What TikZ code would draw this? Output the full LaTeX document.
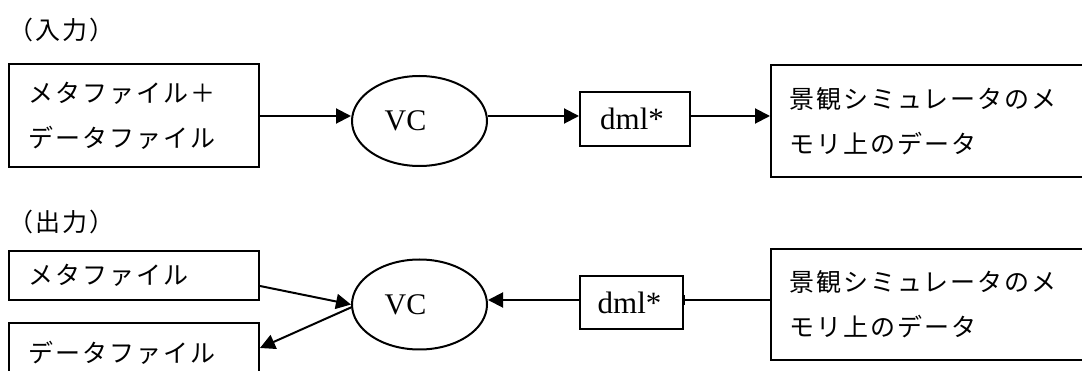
\documentclass[tikz,border=0pt]{standalone}
\usepackage{fontspec}
\setmainfont{Liberation Serif}
\newfontfamily\jpfont{Noto Sans CJK JP}[LetterSpace=8]
\usetikzlibrary{arrows.meta,shapes.geometric,calc}

\begin{document}
\begin{tikzpicture}[x=1pt,y=-1pt,
  line/.style={line width=2pt},
  arr/.style={line, -{Triangle[length=15pt,width=15pt]}},
  jtext/.style={font={\jpfont\fontsize{25pt}{45pt}\selectfont}},
  jbox/.style={jtext, draw, line width=2pt, rectangle, anchor=north west,
    align=left, inner ysep=0pt},
  lbox/.style={draw, line width=2pt, rectangle, inner sep=0pt,
    font=\fontsize{31pt}{36pt}\selectfont},
  ell/.style={draw, line width=2pt, ellipse, inner sep=0pt,
    minimum width=135pt, minimum height=90pt,
    font=\fontsize{30pt}{36pt}\selectfont},
  heading/.style={jtext, anchor=west, inner sep=0pt}]
\clip (0,0) rectangle (1082,371);

% ---- input flow ----
\node[heading] (lin) at (8,30) {（入力）};
\node[jbox, minimum width=250pt, minimum height=103pt, inner xsep=19pt,
  text width=212pt] (in1) at (8,63) {メタファイル＋\\データファイル};
\node[ell] (vc1) at (419.5,121) {VC\hspace*{28pt}};
\node[lbox, minimum width=110pt, minimum height=54pt] (dml1) at (635,119) {dml*\hspace*{6pt}};
\node[jbox, minimum width=320pt, minimum height=112pt, inner xsep=18pt,
  text width=284pt] (sim1) at (770,64) {景観シミュレータのメ\\モリ上のデータ};

\coordinate (r1) at (0,116);
\draw[arr] (in1.east |- r1) -- (vc1.west |- r1);
\draw[arr] (vc1.east |- r1) -- (dml1.west |- r1);
\draw[arr] (dml1.east |- r1) -- (sim1.west |- r1);

% ---- output flow ----
\node[heading] (lout) at (8,222) {（出力）};
\node[jbox, minimum width=250pt, minimum height=49pt, inner xsep=19pt,
  text width=212pt] (meta) at (8,250) {メタファイル};
\node[jbox, minimum width=250pt, minimum height=60pt, inner xsep=19pt,
  text width=212pt] (data) at (8,322) {データファイル};
\node[ell] (vc2) at (419.5,304.5) {VC\hspace*{28pt}};
\node[lbox, minimum width=103pt, minimum height=53pt] (dml2) at (631.5,302.5) {dml*\hspace*{4pt}};
\node[jbox, minimum width=320pt, minimum height=111pt, inner xsep=18pt,
  text width=284pt] (sim2) at (770,248) {景観シミュレータのメ\\モリ上のデータ};

\coordinate (r2) at (0,300);
\draw[arr] ($(meta.east)+(0,10.5)$) -- (vc2.west);
\draw[arr] ($(vc2.west)+(1,2.5)$) -- ($(data.east)+(0,-5)$);
\draw[arr] (dml2.west |- r2) -- (vc2.east |- r2);
\draw[line, -{Bar[width=10pt,line width=1pt]}] (sim2.west |- r2) -- (dml2.east |- r2);
\end{tikzpicture}
\end{document}
